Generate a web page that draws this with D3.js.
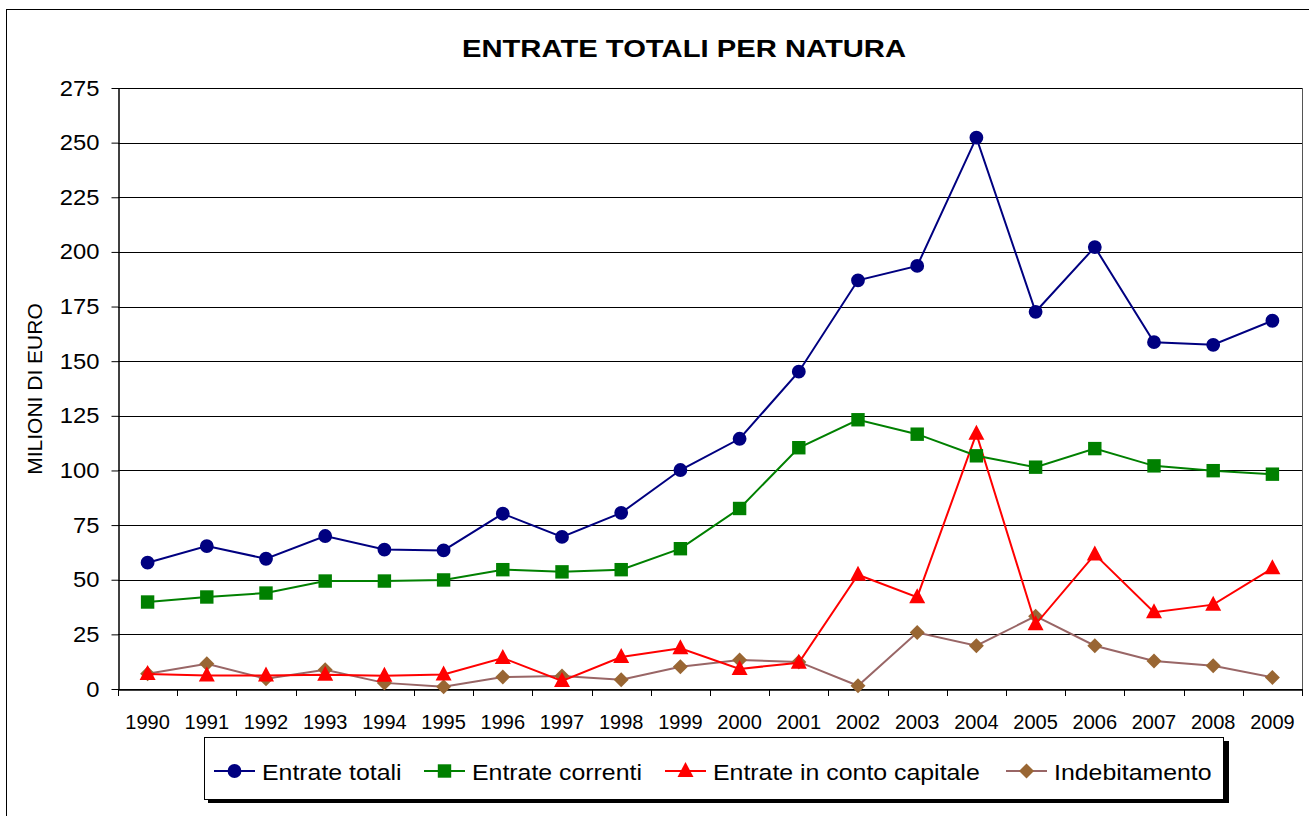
<!DOCTYPE html>
<html><head><meta charset="utf-8">
<script src="https://cdn.jsdelivr.net/npm/d3@7"></script>
<style>
html,body{margin:0;padding:0;background:#fff;}
svg{display:block;font-family:"Liberation Sans",Arial,sans-serif;}
</style></head>
<body><svg id="c" width="1309" height="816"></svg>
<script>
const years = ["1990","1991","1992","1993","1994","1995","1996","1997","1998","1999","2000","2001","2002","2003","2004","2005","2006","2007","2008","2009"];
const entrateTotali = [57.8,65.4,59.6,70,63.8,63.4,80.2,69.6,80.6,100.2,114.5,145.2,187,193.6,252.3,172.6,202.2,158.7,157.5,168.5];
const entrateCorrenti = [39.8,42.1,43.9,49.4,49.4,49.9,54.6,53.6,54.6,64.2,82.6,110.4,123.2,116.6,106.7,101.5,110,102.1,99.9,98.3];
const entrateCapitale = [6.9,6.2,6.2,6.5,6.1,6.6,14.2,3.7,14.6,18.6,9.2,12,52.3,42,116.8,29.6,61.6,35.1,38.6,55.2];
const indebitamento = [7,11.5,4.7,8.8,2.8,1,5.5,6,4.2,10.2,13.3,12.4,1.5,25.8,19.8,33.3,19.8,12.8,10.6,5.3];
const yTicks = [0,25,50,75,100,125,150,175,200,225,250,275];

const series = [
  {name:"Entrate totali", values:entrateTotali, line:"#000080", fill:"#000080", shape:"circle"},
  {name:"Entrate correnti", values:entrateCorrenti, line:"#008000", fill:"#008000", shape:"square"},
  {name:"Entrate in conto capitale", values:entrateCapitale, line:"#FF0000", fill:"#FF0000", shape:"triangle"},
  {name:"Indebitamento", values:indebitamento, line:"#996666", fill:"#996633", shape:"diamond"}
];

const svg = d3.select("#c");
const L=118, R=1302, T=88, B=689;

function stretch(sel, k){
  sel.each(function(){
    const w = this.getComputedTextLength();
    d3.select(this).attr("textLength", w*k).attr("lengthAdjust","spacingAndGlyphs");
  });
}

// outer border
svg.append("rect").attr("x",6.5).attr("y",9.5).attr("width",1310).attr("height",820)
  .attr("fill","none").attr("stroke","#000").attr("stroke-width",1);

const title = svg.append("text").attr("x",684).attr("y",57).attr("text-anchor","middle")
  .attr("font-size","23px").attr("font-weight","bold").text("ENTRATE TOTALI PER NATURA");
stretch(title, 1.27);

const x = d3.scaleBand().domain(years).range([L,R]).padding(0);
const y = d3.scaleLinear().domain([0,275]).range([B,T]);

// gridlines
svg.append("g").selectAll("line").data(yTicks).join("line")
  .attr("x1",L).attr("x2",R).attr("y1",d=>Math.round(y(d))+0.5).attr("y2",d=>Math.round(y(d))+0.5)
  .attr("stroke","#000").attr("stroke-width",1);
// right border of plot
svg.append("line").attr("x1",R+0.5).attr("x2",R+0.5).attr("y1",T).attr("y2",B).attr("stroke","#555");

// y axis
const yAxis = svg.append("g").attr("transform",`translate(${L+0.5},0)`)
  .call(d3.axisLeft(y).tickValues(yTicks).tickSize(7).tickSizeOuter(0).tickPadding(12));
yAxis.select(".domain").attr("stroke","#000").attr("stroke-width",1.5);
yAxis.selectAll(".tick line").attr("stroke","#000");
yAxis.selectAll("text").attr("font-size","22px").attr("fill","#000").attr("font-family","Liberation Sans, Arial, sans-serif");
stretch(yAxis.selectAll("text"), 1.08);

// x axis
const xAxis = svg.append("g").attr("transform",`translate(0,${B+0.5})`)
  .call(d3.axisBottom(x).tickSize(0).tickPadding(25));
xAxis.select(".domain").attr("stroke","#000").attr("stroke-width",1.5);
xAxis.selectAll("text").attr("font-size","20px").attr("fill","#000").attr("font-family","Liberation Sans, Arial, sans-serif");
// category-boundary tick marks
const bounds = years.map(d=>x(d)).concat([x(years[years.length-1])+x.bandwidth()]);
svg.append("g").selectAll("line").data(bounds).join("line")
  .attr("x1",d=>Math.round(d)+0.5).attr("x2",d=>Math.round(d)+0.5)
  .attr("y1",B).attr("y2",B+7).attr("stroke","#000");

// y title
svg.append("text").attr("transform","translate(42,389) rotate(-90)").attr("text-anchor","middle")
  .attr("font-size","21px").text("MILIONI DI EURO");

function symbolPath(shape){
  if(shape==="circle") return d3.symbol(d3.symbolCircle,150)();
  if(shape==="square") return d3.symbol(d3.symbolSquare,180)();
  if(shape==="triangle") return "M0,-9L8,6L-8,6Z";
  return "M0,-7.5L7.5,0L0,7.5L-7.5,0Z";
}

const cx = d=>x(d)+x.bandwidth()/2;
const line = d3.line().x((d,i)=>cx(years[i])).y(d=>y(d));

// draw in reverse so totals on top
series.slice().reverse().forEach(s=>{
  const g = svg.append("g");
  g.append("path").attr("d",line(s.values)).attr("fill","none").attr("stroke",s.line).attr("stroke-width",2);
  g.selectAll("path.m").data(s.values).join("path").attr("class","m")
    .attr("d",symbolPath(s.shape))
    .attr("transform",(d,i)=>`translate(${cx(years[i])},${y(d)})`)
    .attr("fill",s.fill);
});

// legend
const lg = svg.append("g");
lg.append("rect").attr("x",208).attr("y",741).attr("width",1021).attr("height",62).attr("fill","#000");
lg.append("rect").attr("x",204.5).attr("y",737.5).attr("width",1019).attr("height",62).attr("fill","#fff").attr("stroke","#000");
const legX = [214, 424, 665, 1006];
series.forEach((s,i)=>{
  const gx = legX[i], gy = 771;
  lg.append("line").attr("x1",gx).attr("x2",gx+41).attr("y1",gy).attr("y2",gy).attr("stroke",s.line).attr("stroke-width",2);
  lg.append("path").attr("d",symbolPath(s.shape)).attr("transform",`translate(${gx+20.5},${gy})`).attr("fill",s.fill);
  const t = lg.append("text").attr("x",gx+48).attr("y",gy+8.5).attr("font-size","22px").text(s.name);
  stretch(t, 1.13);
});
</script></body></html>
